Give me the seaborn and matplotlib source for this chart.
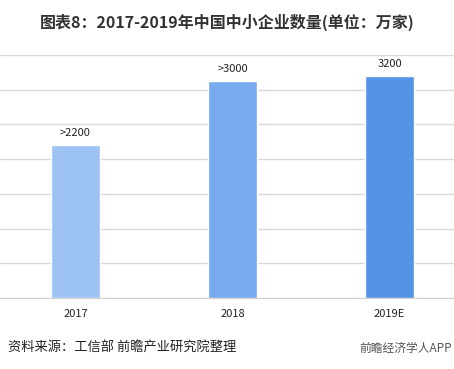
import matplotlib
matplotlib.use("Agg")
import matplotlib.pyplot as plt
import seaborn as sns
import pandas as pd

# data
years = ["2017", "2018", "2019E"]
counts = [2200, 3120, 3200]
labels = [">2200", ">3000", "3200"]
colors = ["#9DC3F4", "#77AAEE", "#5493E6"]

sns.set_style("white")
plt.rcParams['font.family'] = ['Noto Sans CJK SC', 'DejaVu Sans']

df = pd.DataFrame({"year": years, "count": counts})

fig = plt.figure(figsize=(4.54, 3.69), dpi=100)
ax = fig.add_axes([0, 71/369, 1, 243/369])

sns.barplot(data=df, x="year", y="count", hue="year", palette=colors,
            width=0.31, legend=False, ax=ax, saturation=1, zorder=3)

ax.set_ylim(0, 3500)
ax.set_xlim(-0.481, 2.411)
ax.set_yticks(range(0, 3501, 500))
ax.yaxis.grid(True, color="#d9d9d9", linewidth=1, zorder=0)
ax.set_yticklabels([])
ax.tick_params(axis="y", length=0)
ax.tick_params(axis="x", length=0, labelsize=8, pad=8, colors="#222222")
ax.set_xlabel("")
ax.set_ylabel("")
for s in ["left", "right", "top"]:
    ax.spines[s].set_visible(False)
ax.spines["bottom"].set_color("#d0d0d0")

for i, (v, t) in enumerate(zip(counts, labels)):
    ax.annotate(t, (i, v), xytext=(0, 5), textcoords="offset points",
                ha="center", va="bottom", fontsize=8, color="#222222")

fig.text(0.5, 1 - 22/369, "图表8：2017-2019年中国中小企业数量(单位：万家)",
         ha="center", va="center", fontsize=11.5, fontweight="bold", color="#333333")
fig.text(8/454, 1 - 348/369, "资料来源：工信部 前瞻产业研究院整理",
         ha="left", va="center", fontsize=9.5, color="#222222")
fig.text(452/454, 1 - 348/369, "前瞻经济学人APP",
         ha="right", va="center", fontsize=8.5, color="#555555")

fig.savefig("out.png", dpi=100)
